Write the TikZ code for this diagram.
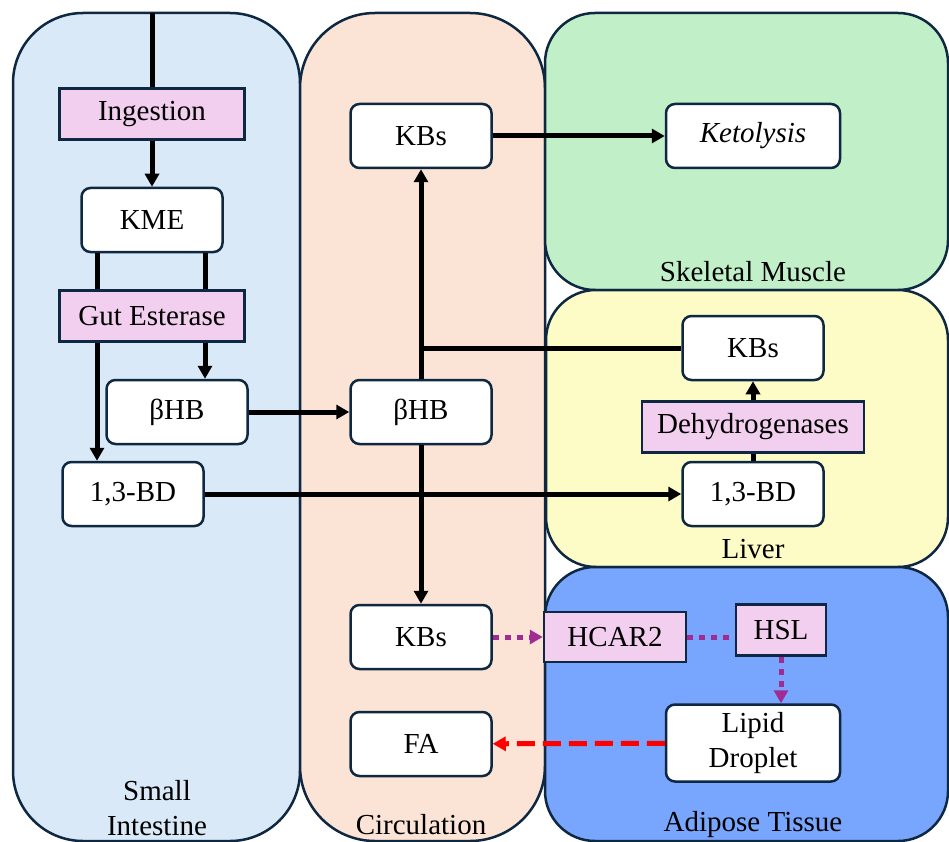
\documentclass[tikz,border=0pt]{standalone}
\usepackage{fontspec}
\setmainfont{Liberation Serif}
\usetikzlibrary{arrows.meta}
\definecolor{edgeblue}{HTML}{0E2841}
\definecolor{gutblue}{HTML}{DAE9F7}
\definecolor{bloodpeach}{HTML}{FBE3D6}
\definecolor{musclegreen}{HTML}{C1F0C8}
\definecolor{liveryellow}{HTML}{FEFCC6}
\definecolor{fatblue}{HTML}{78A5FE}
\definecolor{enzpink}{HTML}{F2CEEF}
\definecolor{sigpurple}{HTML}{A02B93}
\begin{document}
\begin{tikzpicture}[x=1pt,y=-1pt,>={Triangle[length=13pt,width=14pt]},line width=5pt,
  font=\fontsize{29}{35}\selectfont,
  panel/.style={draw=edgeblue,line width=2.5pt},
  mol/.style={draw=edgeblue,line width=2.5pt,fill=white,rounded corners=9pt,
    minimum width=141pt,minimum height=64pt,inner sep=0pt,align=center},
  enz/.style={draw=edgeblue,line width=2.5pt,fill=enzpink,minimum height=51pt,inner sep=0pt},
  sig/.style={draw=sigpurple,line width=5pt,dash pattern=on 6pt off 6pt},
  rel/.style={draw=red,line width=5pt,dash pattern=on 18pt off 8pt}]
  \useasboundingbox (0,0) rectangle (949,842);
  % compartments
  \path[panel,fill=gutblue,rounded corners=70pt] (13,13) rectangle (300,841);
  \path[panel,fill=bloodpeach,rounded corners=75pt] (300,13) rectangle (545,841);
  \path[panel,fill=musclegreen,rounded corners=50pt] (545,13) rectangle (948,290);
  \path[panel,fill=liveryellow,rounded corners=50pt] (546,290) rectangle (948,567);
  \path[panel,fill=fatblue,rounded corners=50pt] (545,567) rectangle (948,841);
  \node (lblSI) at (157,808) [align=center] {Small\\Intestine};
  \node (lblCI) at (421,825) {Circulation};
  \node (lblSM) at (753,272) {Skeletal Muscle};
  \node (lblLI) at (753,549) {Liver};
  \node (lblAT) at (753,825) {Adipose Tissue};
  % small intestine
  \coordinate (src) at (152,13);
  \node[enz,minimum width=185pt] (ing) at (152,114) {Ingestion};
  \node[mol] (kme) at (152,220) {KME};
  \node[enz,minimum width=185pt] (gut) at (152,316) {Gut Esterase};
  \node[mol] (hbS) at (177,412) {βHB};
  \node[mol] (bdS) at (133,494) {1,3-BD};
  % circulation
  \node[mol] (kbT) at (421,136) {KBs};
  \node[mol] (hbC) at (421,412) {βHB};
  \node[mol] (kbB) at (421,637) {KBs};
  \node[mol] (fa) at (421,744) {FA};
  % muscle, liver, adipose
  \node[mol,minimum width=174pt] (ket) at (753,136) {\textit{Ketolysis}};
  \node[mol] (kbL) at (753,348) {KBs};
  \node[enz,minimum width=222pt] (dh) at (753,427) {Dehydrogenases};
  \node[mol] (bdL) at (753,494) {1,3-BD};
  \node[enz,minimum width=142pt,minimum height=50pt] (hcar) at (615,637) {HCAR2};
  \node[enz,minimum width=90pt] (hsl) at (781,630) {HSL};
  \node[mol,minimum width=174pt,minimum height=77pt] (lip) at (753,743) {Lipid\\Droplet};
  % connectors
  \draw (src) -- (ing.north);
  \draw[->] (ing) -- (kme);
  \draw ([xshift=-55pt]kme.south) -- ([xshift=-55pt]kme.south |- gut.north);
  \draw ([xshift=53pt]kme.south) -- ([xshift=53pt]kme.south |- gut.north);
  \draw[->] ([xshift=53pt]gut.south) -- ([xshift=53pt]gut.south |- hbS.north);
  \draw[->] ([xshift=-55pt]gut.south) -- ([xshift=-55pt]gut.south |- bdS.north);
  \draw[->] (hbS) -- (hbC);
  \draw[->] (bdS) -- (bdL);
  \draw[->] (hbC) -- (kbT);
  \draw[->] (hbC) -- (kbB);
  \draw (hbC.north |- kbL.west) -- (kbL.west);
  \draw[->] (kbT) -- (ket);
  \draw (bdL) -- (dh);
  \draw[->] (dh) -- (kbL);
  \draw[sig,->] (kbB) -- (hcar);
  \draw[sig] (hcar.east) -- (hcar.east -| hsl.west);
  \draw[sig,->] (hsl.south) -- (hsl.south |- lip.north);
  \draw[rel,->] (lip) -- (fa);
\end{tikzpicture}
\end{document}
